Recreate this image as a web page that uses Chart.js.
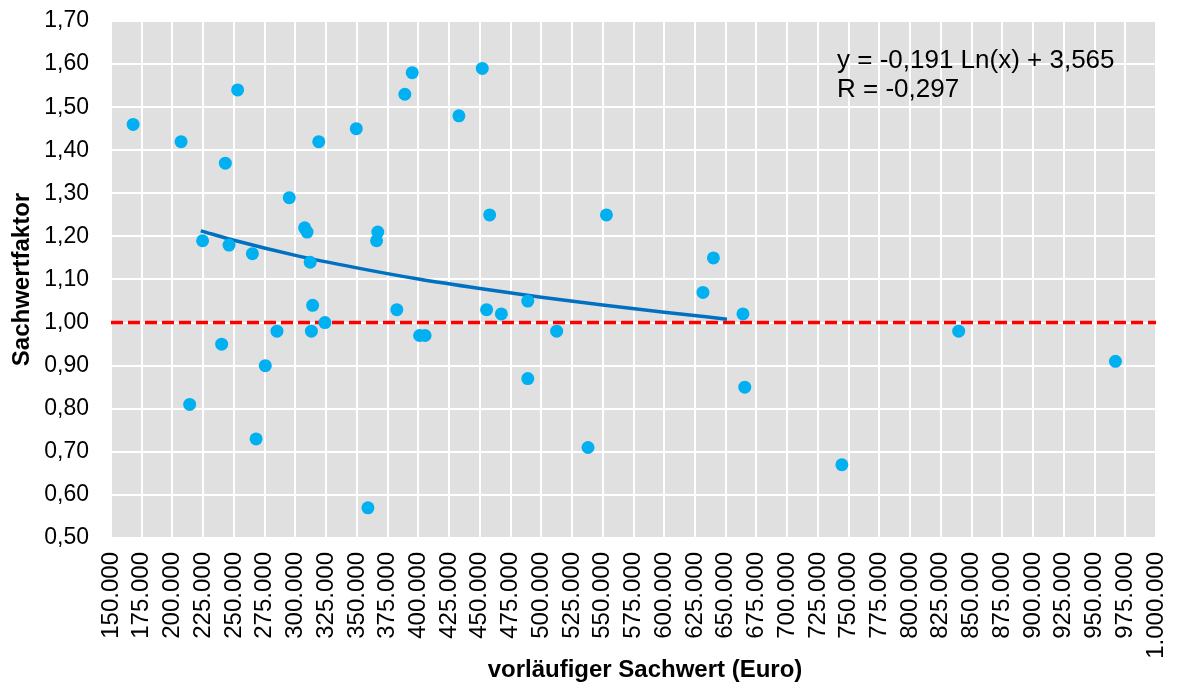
<!DOCTYPE html>
<html>
<head>
<meta charset="utf-8">
<script src="https://cdn.jsdelivr.net/npm/chart.js@4.4.1/dist/chart.umd.min.js"></script>
<style>
  html, body { margin: 0; padding: 0; background: #fff; }
</style>
</head>
<body>
<canvas id="chart" width="1181" height="691"></canvas>
<script>
// vorläufiger Sachwert (Euro) of each sale
const sachwert = [
  168000, 207000, 214000, 224500, 240000, 243000, 246000, 253000, 265000, 268000,
  275500, 285000, 295000, 307500, 309500, 312000, 313000, 314000, 319000, 324000,
  349500, 359000, 366000, 367000, 382500, 389000, 395000, 401000, 405500, 433000,
  452000, 455500, 458000, 467500, 489000, 489000, 512500, 538000, 553000, 631500,
  640000, 664000, 665500, 744500, 839500, 967000
];
// Sachwertfaktor of each sale
const faktor = [
  1.46, 1.42, 0.81, 1.19, 0.95, 1.37, 1.18, 1.54, 1.16, 0.73,
  0.90, 0.98, 1.29, 1.22, 1.21, 1.14, 0.98, 1.04, 1.42, 1.00,
  1.45, 0.57, 1.19, 1.21, 1.03, 1.53, 1.58, 0.97, 0.97, 1.48,
  1.59, 1.03, 1.25, 1.02, 1.05, 0.87, 0.98, 0.71, 1.25, 1.07,
  1.15, 1.02, 0.85, 0.67, 0.98, 0.91
];

// logarithmic trend line
const trendX = [223000, 250000, 300000, 350000, 400000, 450000, 500000, 550000, 600000, 651000];
const trendY = [1.213, 1.191, 1.156, 1.127, 1.101, 1.079, 1.059, 1.041, 1.024, 1.008];

// reference line at factor 1,00
const refX = [150000, 1000000];
const refY = [1.00, 1.00];

const trendText = ['y = -0,191 Ln(x) + 3,565', 'R = -0,297'];
const xTitle = 'vorläufiger Sachwert (Euro)';
const yTitle = 'Sachwertfaktor';

const FONT = "'Liberation Sans', Arial, sans-serif";

function toPoints(xs, ys) {
  return xs.map((x, i) => ({ x: x, y: ys[i] }));
}

function formatEuro(v) {
  return Math.round(v).toString().replace(/\B(?=(\d{3})+(?!\d))/g, '.');
}

const plotBackground = {
  id: 'plotBackground',
  beforeDraw(chart) {
    const a = chart.chartArea;
    const ctx = chart.ctx;
    ctx.save();
    ctx.fillStyle = '#e0e0e0';
    ctx.fillRect(a.left, a.top, a.right - a.left, a.bottom - a.top);
    ctx.restore();
  }
};

const chartTexts = {
  id: 'chartTexts',
  afterDraw(chart) {
    const ctx = chart.ctx;
    const a = chart.chartArea;
    ctx.save();
    ctx.fillStyle = '#000';

    // trend equation
    ctx.font = '26px ' + FONT;
    ctx.textAlign = 'left';
    ctx.textBaseline = 'middle';
    ctx.fillText(trendText[0], 837, 61);
    ctx.fillText(trendText[1], 837, 90);

    // axis titles
    ctx.font = 'bold 24px ' + FONT;
    ctx.textAlign = 'center';
    ctx.fillText(xTitle, 645, 670);

    ctx.translate(22, (a.top + a.bottom) / 2);
    ctx.rotate(-Math.PI / 2);
    ctx.fillText(yTitle, 0, 0);
    ctx.restore();
  }
};

new Chart(document.getElementById('chart'), {
  type: 'scatter',
  data: {
    datasets: [
      {
        label: 'Sachwertfaktor',
        data: toPoints(sachwert, faktor),
        backgroundColor: '#00b0f0',
        borderWidth: 0,
        pointRadius: 6.5,
        order: 0
      },
      {
        label: 'Trend',
        data: toPoints(trendX, trendY),
        showLine: true,
        borderColor: '#0070c0',
        borderWidth: 3.5,
        pointRadius: 0,
        cubicInterpolationMode: 'monotone',
        order: 1
      },
      {
        label: '1,00',
        data: toPoints(refX, refY),
        showLine: true,
        borderColor: '#ff0000',
        borderWidth: 3.5,
        borderDash: [12, 5],
        pointRadius: 0,
        order: 2
      }
    ]
  },
  options: {
    responsive: false,
    animation: false,
    layout: { padding: { left: 0, top: 21, right: 25, bottom: 0 } },
    plugins: {
      legend: { display: false },
      tooltip: { enabled: false }
    },
    scales: {
      x: {
        type: 'linear',
        min: 150000,
        max: 1000000,
        afterFit(scale) {
          scale.height = 153;
          scale.paddingLeft = 0;
          scale.paddingRight = 0;
        },
        border: { display: false },
        grid: { color: '#ffffff', lineWidth: 2, drawTicks: false },
        ticks: {
          stepSize: 25000,
          autoSkip: false,
          maxRotation: 90,
          minRotation: 90,
          padding: 14,
          color: '#000',
          font: { family: FONT, size: 24 },
          callback: v => formatEuro(v)
        }
      },
      y: {
        min: 0.5,
        max: 1.7,
        afterFit(scale) {
          scale.width = 111;
          scale.paddingTop = 0;
          scale.paddingBottom = 0;
        },
        border: { display: false },
        grid: { color: '#ffffff', lineWidth: 2, drawTicks: false },
        ticks: {
          stepSize: 0.1,
          padding: 22,
          color: '#000',
          font: { family: FONT, size: 23 },
          callback: v => v.toFixed(2).replace('.', ',')
        }
      }
    }
  },
  plugins: [plotBackground, chartTexts]
});
</script>
</body>
</html>
